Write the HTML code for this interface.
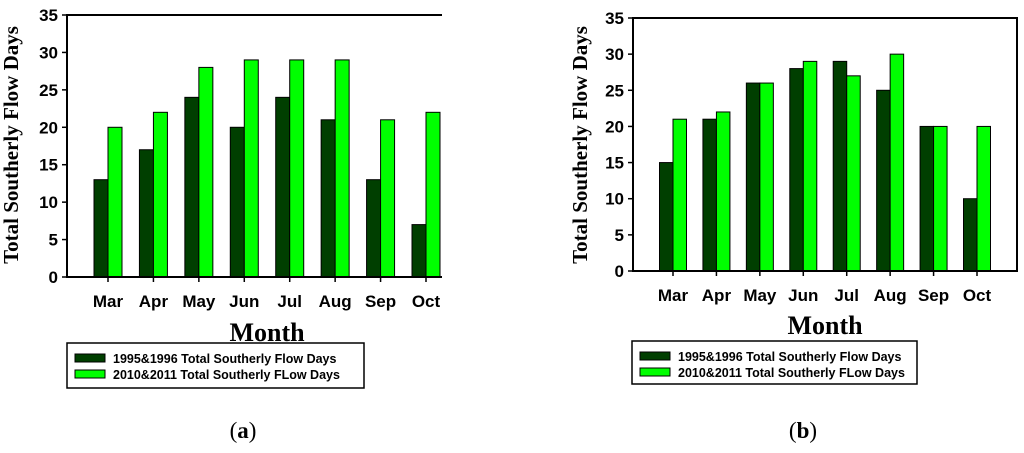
<!DOCTYPE html>
<html><head><meta charset="utf-8"><style>
body{margin:0;background:#fff;width:1024px;height:448px;overflow:hidden}
svg text{font-family:"Liberation Sans",Arial,sans-serif}
.serif{font-family:"Liberation Serif",serif !important}
</style></head><body>
<svg id="s" width="1024" height="448"></svg>
<script>
const months=["Mar","Apr","May","Jun","Jul","Aug","Sep","Oct"];
const aOld=[13,17,24,20,24,21,13,7];
const aNew=[20,22,28,29,29,29,21,22];
const bOld=[15,21,26,28,29,25,20,10];
const bNew=[21,22,26,29,27,30,20,20];
const yTicks=[0,5,10,15,20,25,30,35];
const NS="http://www.w3.org/2000/svg";
const svg=document.getElementById('s');
function mk(t,a,p,txt){const e=document.createElementNS(NS,t);for(const k in a)e.setAttribute(k,a[k]);if(txt!=null)e.textContent=txt;(p||svg).appendChild(e);return e;}
function chart(cfg,oldV,newV,id){
const g=mk('g',{});


const y=v=>cfg.bot-(cfg.bot-cfg.top)*v/35;
const xc=i=>cfg.c0+(cfg.c1-cfg.c0)*i/(months.length-1);
const bw=cfg.bw;
oldV.forEach((v,i)=>{const r=mk('rect',{x:xc(i)-bw,y:y(v),width:bw,height:cfg.bot-y(v),fill:'#003f00',stroke:'#000','stroke-width':1},g);

});
newV.forEach((v,i)=>{const r=mk('rect',{x:xc(i),y:y(v),width:bw,height:cfg.bot-y(v),fill:'#00ff00',stroke:'#000','stroke-width':1},g);

});
const fr=mk('path',{d:cfg.box?`M${cfg.left},${cfg.top}H${cfg.right}V${cfg.bot}H${cfg.left}Z`:`M${cfg.right},${cfg.top}H${cfg.left}V${cfg.bot}H${cfg.right}`,fill:'none',stroke:'#000','stroke-width':2},g);


yTicks.forEach(t=>{mk('line',{x1:cfg.left-5,x2:cfg.left,y1:y(t),y2:y(t),stroke:'#000','stroke-width':1.5},g);
const l=mk('text',{x:cfg.left-9,y:y(t)+6,'text-anchor':'end','font-size':17,'font-weight':'bold'},g,t);

});
months.forEach((m,i)=>{mk('line',{x1:xc(i),x2:xc(i),y1:cfg.bot,y2:cfg.bot+5,stroke:'#000','stroke-width':1.5},g);
const l=mk('text',{x:xc(i),y:cfg.bot+30,'text-anchor':'middle','font-size':17,'font-weight':'bold'},g,m);

});
const mt=mk('text',{x:cfg.mx,y:cfg.my,'text-anchor':'middle','font-size':26,'font-weight':'bold',class:'serif'},g,'Month');


const yt=mk('text',{x:0,y:0,transform:`translate(${cfg.yx},${cfg.yy}) rotate(-90)`,'text-anchor':'middle','font-size':21,'font-weight':'bold',class:'serif'},g,'Total Southerly Flow Days');


const L=cfg.leg;
const lg=mk('g',{},g);


mk('rect',{x:L.x,y:L.y,width:L.w,height:L.h,fill:'#fff',stroke:'#000','stroke-width':1.5},lg);
mk('rect',{x:L.x+8,y:L.y+11,width:30,height:8,fill:'#003f00',stroke:'#000','stroke-width':1},lg);
mk('rect',{x:L.x+8,y:L.y+27,width:30,height:8,fill:'#00ff00',stroke:'#000','stroke-width':1},lg);
mk('text',{x:L.x+46,y:L.y+20,'font-size':12.5,'font-weight':'bold'},lg,'1995&1996 Total Southerly Flow Days');
mk('text',{x:L.x+46,y:L.y+36,'font-size':12.5,'font-weight':'bold'},lg,'2010&2011 Total Southerly FLow Days');
const cp=mk('text',{x:cfg.capx,y:438,'text-anchor':'middle','font-size':23,class:'serif'},g);
mk('tspan',{},cp,'(');mk('tspan',{'font-weight':'bold'},cp,id);mk('tspan',{},cp,')');


}
chart({left:67,right:442,top:15,bot:277,c0:108,c1:426,bw:14,box:false,mx:267,my:341,yx:18,yy:145,leg:{x:67,y:343,w:297,h:45},capx:243},aOld,aNew,'a');
chart({left:633,right:1017,top:18,bot:271,c0:673,c1:977,bw:13.5,box:true,mx:825,my:334,yx:587,yy:145,leg:{x:632,y:341,w:285,h:43},capx:803},bOld,bNew,'b');
</script>
</body></html>
